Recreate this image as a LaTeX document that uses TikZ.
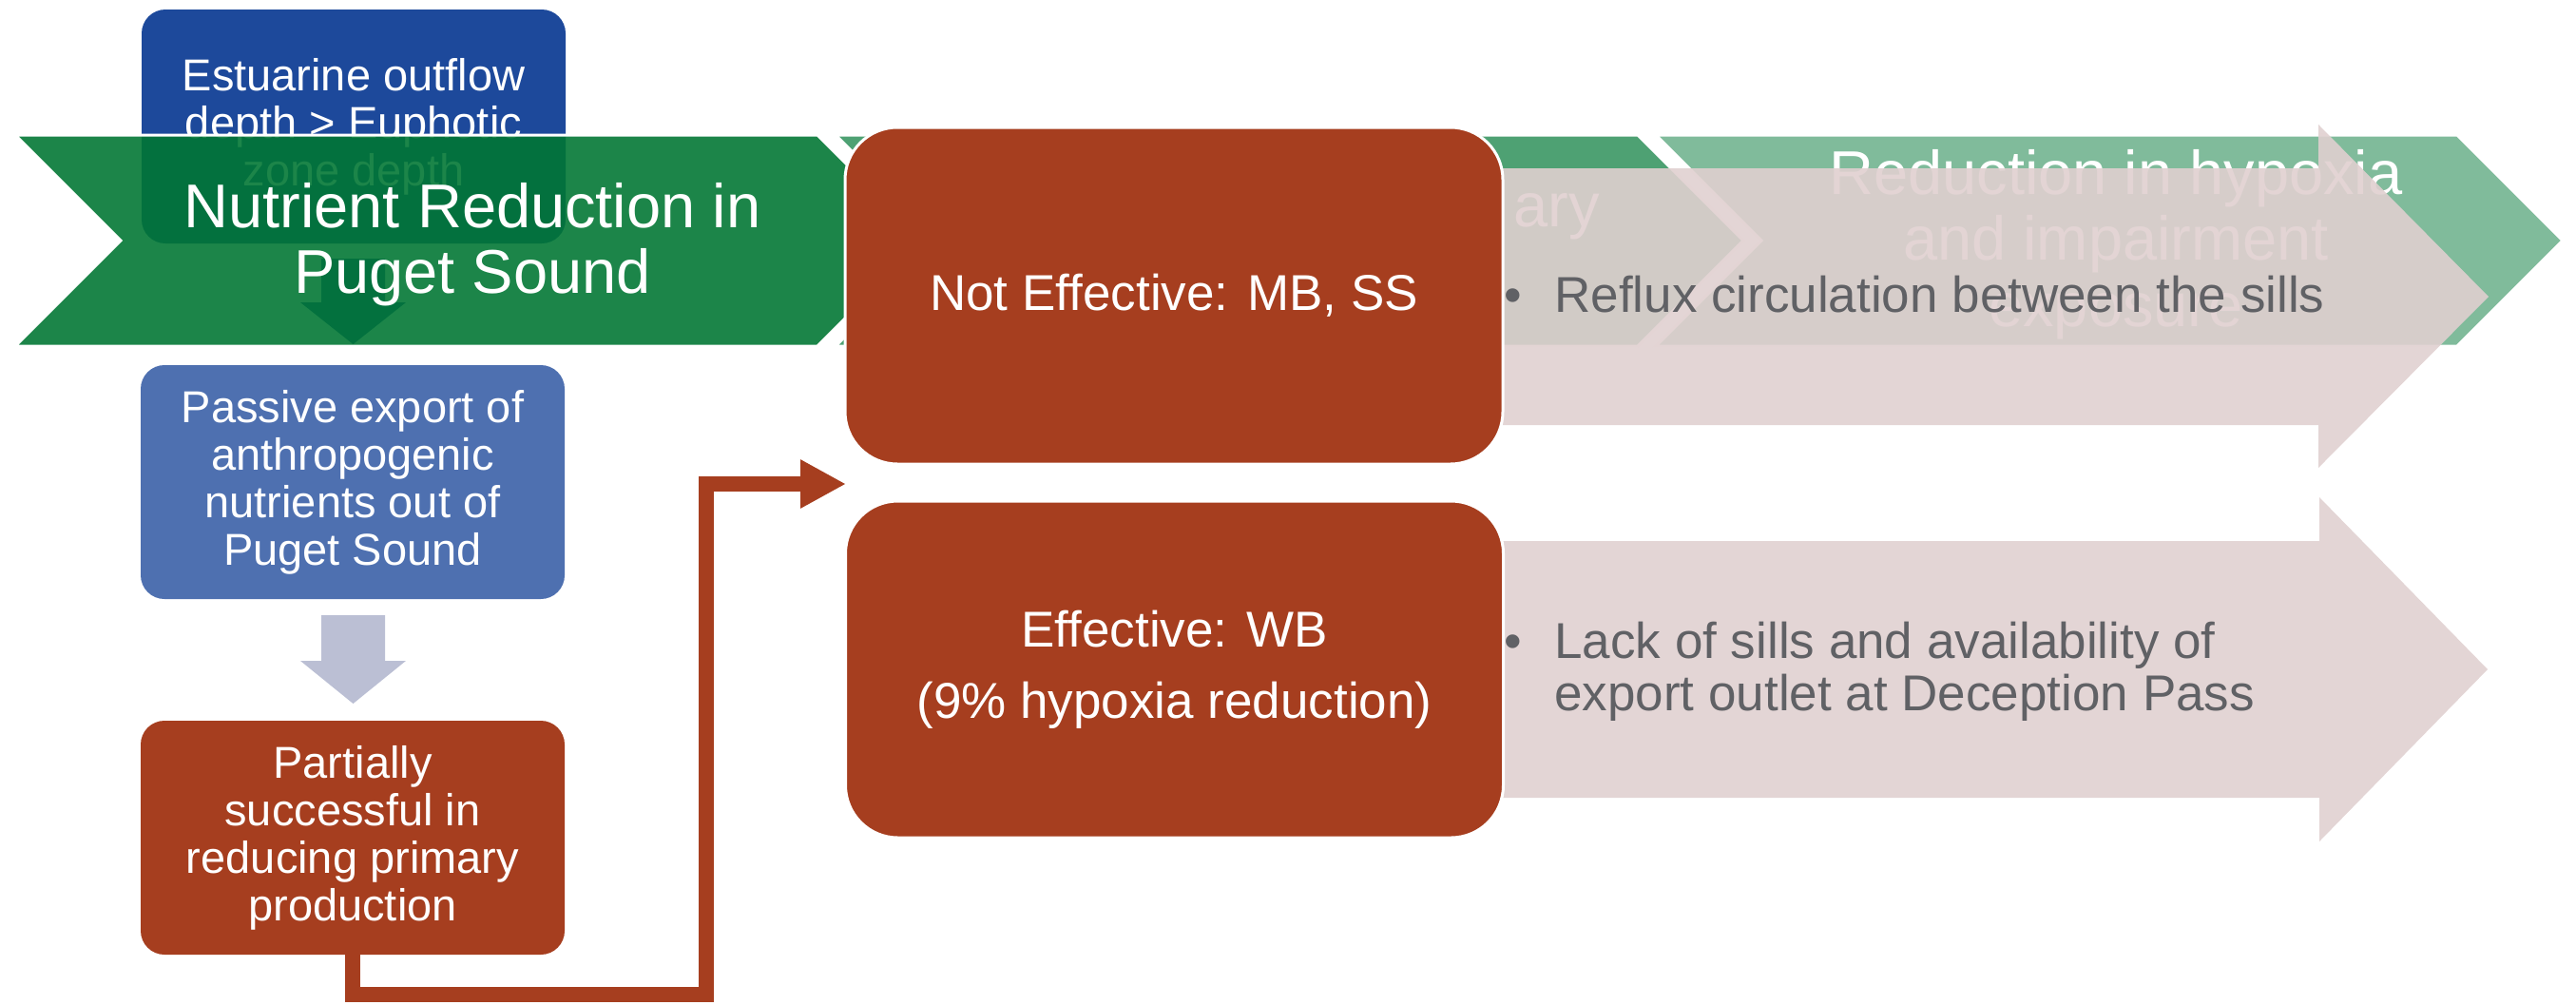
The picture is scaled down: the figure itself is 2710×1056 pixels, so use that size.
\documentclass[tikz,border=0pt]{standalone}
\usepackage{fontspec}
\setmainfont{Liberation Sans}
\usetikzlibrary{arrows.meta}
\definecolor{blueDark}{RGB}{29,73,155}
\definecolor{blueMid}{RGB}{78,112,176}
\definecolor{brownC}{RGB}{166,62,31}
\definecolor{greyArrow}{RGB}{187,191,212}
\definecolor{chevA}{RGB}{0,118,51}
\definecolor{chevB}{RGB}{78,161,115}
\definecolor{chevC}{RGB}{128,187,155}
\definecolor{pinkC}{RGB}{224,208,208}
\definecolor{textGrey}{RGB}{96,97,101}
\newcommand{\fntBox}{\fontsize{23.5pt}{25pt}\selectfont}
\newcommand{\fntChev}{\fontsize{32.5pt}{34.75pt}\selectfont}
\newcommand{\fntBig}{\fontsize{26.5pt}{37.5pt}\selectfont}
\newcommand{\fntPink}{\fontsize{26.5pt}{27.5pt}\selectfont}
\begin{document}
\begin{tikzpicture}[x=0.5pt,y=-0.5pt,
  smallbox/.style={rounded corners=12.5pt, minimum width=223pt, minimum height=123pt,
    inner sep=0pt, text=white, align=center, font=\fntBox},
  bigbox/.style={rounded corners=27.5pt, minimum width=346pt, minimum height=177pt,
    fill=brownC, draw=white, line width=1.5pt, text=white, align=center, inner sep=0pt, font=\fntBig},
  chevshape/.style={draw=white, line width=1.5pt},
  chevtext/.style={text=white, align=center, inner sep=0pt, font=\fntChev},
  pinkarrow/.style={fill=pinkC, fill opacity=0.9},
  pinktext/.style={text=textGrey, inner sep=0pt, font=\fntPink},
  conn/.style={draw=brownC, line width=8pt, -{Triangle[length=24pt,width=24pt]}}
]
\useasboundingbox (0,0) rectangle (2710,1056);

% left column (bottom layer)
\node[smallbox, fill=blueDark] (est) at (372,133) {Estuarine outflow\\depth > Euphotic\\zone depth};
\fill[blueDark] (338,272) -- (405,272) -- (405,318) -- (427,318) -- (371.5,362) -- (316,318) -- (338,318) -- cycle;

% chevrons
\path[chevshape, fill=chevA, fill opacity=0.89] (16,142) -- (860,142) -- (971,253) -- (860,364) -- (16,364) -- (127,253) -- cycle;
\node[chevtext] (c1) at (497,257) {Nutrient Reduction in\\Puget Sound};
\path[chevshape, fill=chevB] (879,142) -- (1723,142) -- (1834,253) -- (1723,364) -- (879,364) -- (990,253) -- cycle;
\node[chevtext, anchor=base east] (c2) at (1683,238) {ary};
\path[chevshape, fill=chevC] (1742,142) -- (2585,142) -- (2696,253) -- (2585,364) -- (1742,364) -- (1853,253) -- cycle;
\node[chevtext] (c3) at (2226,257) {Reduction in hypoxia\\and impairment\\exposure};

% rest of left column
\node[smallbox, fill=blueMid] (pass) at (371,507) {Passive export of\\anthropogenic\\nutrients out of\\Puget Sound};
\fill[greyArrow] (338,647) -- (405,647) -- (405,695) -- (427,695) -- (371.5,740) -- (316,695) -- (338,695) -- cycle;
\node[smallbox, fill=brownC] (part) at (371,881) {Partially\\successful in\\reducing primary\\production};

% pink arrows
\fill[pinkarrow] (1100,177) -- (2439,177) -- (2439,131) -- (2618,312) -- (2439,492) -- (2439,447) -- (1100,447) -- cycle;
\fill[pinkarrow] (1100,569) -- (2440,569) -- (2440,523) -- (2617,704) -- (2440,885) -- (2440,839) -- (1100,839) -- cycle;

% brown boxes
\node[bigbox] (ne) at (1235,311) {Not Effective: MB, SS};
\node[bigbox] (eff) at (1235.5,704) {Effective: WB\\(9\% hypoxia reduction)};

% pink texts
\node[pinktext, anchor=base west] (r1) at (1582,328) {\makebox[26.5pt][l]{•}Reflux circulation between the sills};
\node[pinktext, anchor=west, align=left] (r2) at (1582,706) {\makebox[26.5pt][l]{•}Lack of sills and availability of\\\hspace*{26.5pt}export outlet at Deception Pass};

% connector
\coordinate (cb) at (743,1046);
\coordinate (ct) at (890,509);
\draw[conn] (part.south) |- (cb) |- (ct);
\end{tikzpicture}
\end{document}
